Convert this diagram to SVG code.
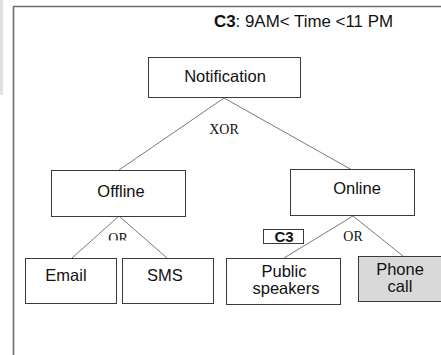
<svg xmlns="http://www.w3.org/2000/svg" width="441" height="355" viewBox="0 0 441 355">
  <style>
    .box { fill: #ffffff; stroke: #3a3a3a; stroke-width: 1; }
    .box.grey { fill: #d9d9d9; }
    .lbl { font-family: "Liberation Sans", Arial, sans-serif; font-size: 16.5px; fill: #111111; text-anchor: middle; }
    .op { font-family: "Liberation Serif", "Times New Roman", serif; font-size: 14px; fill: #111111; text-anchor: middle; }
    .edge { stroke: #7a7a7a; stroke-width: 1; fill: none; }
  </style>
  <defs>
    <clipPath id="orClip">
      <rect x="100" y="225" width="40" height="15.5"/>
    </clipPath>
  </defs>

  <rect x="0" y="0" width="441" height="355" fill="#ffffff"/>
  <!-- side strip -->
  <rect x="0" y="0" width="3" height="95" fill="#e2e2e2"/>
  <!-- outer frame -->
  <path d="M13.5 355 V6.5 H441" fill="none" stroke="#6e6e6e" stroke-width="1.6"/>

  <!-- context condition -->
  <text x="214" y="27" font-family="Liberation Sans, Arial, sans-serif" font-size="16.9" fill="#111111"><tspan font-weight="bold">C3</tspan>: 9AM&lt; Time &lt;11 PM</text>

  <g id="connectors">
    <line class="edge" x1="224" y1="98" x2="119" y2="170"/>
    <line class="edge" x1="224" y1="98" x2="352" y2="170"/>
    <line class="edge" x1="119" y1="216" x2="72" y2="258"/>
    <line class="edge" x1="119" y1="216" x2="167" y2="258"/>
    <line class="edge" x1="353" y1="216" x2="284" y2="258"/>
    <line class="edge" x1="353" y1="216" x2="403" y2="256"/>
    <text class="op" x="224" y="134">XOR</text>
    <text class="op" x="118" y="242.5" clip-path="url(#orClip)">OR</text>
    <text class="op" x="353" y="241">OR</text>
  </g>

  <g id="notification">
    <rect class="box" x="148.5" y="57.5" width="152" height="40"/>
    <text class="lbl" x="225" y="82">Notification</text>
  </g>

  <g id="offline">
    <rect class="box" x="51.5" y="170.5" width="134" height="46"/>
    <text class="lbl" x="121" y="197">Offline</text>
  </g>

  <g id="online">
    <rect class="box" x="290.5" y="169.5" width="124" height="46"/>
    <text class="lbl" x="357" y="194">Online</text>
  </g>

  <g id="email">
    <rect class="box" x="25.5" y="258.5" width="91" height="45"/>
    <text class="lbl" x="66" y="281">Email</text>
  </g>

  <g id="sms">
    <rect class="box" x="122.5" y="258.5" width="91" height="45"/>
    <text class="lbl" x="165" y="281">SMS</text>
  </g>

  <g id="public-speakers">
    <rect class="box" x="226.5" y="258.5" width="114" height="46"/>
    <text class="lbl" x="284" y="277">Public</text>
    <text class="lbl" x="286" y="294">speakers</text>
  </g>

  <g id="phone-call">
    <rect class="box grey" x="358.5" y="256.5" width="90" height="45"/>
    <text class="lbl" x="400" y="275">Phone</text>
    <text class="lbl" x="400" y="292">call</text>
  </g>

  <g id="c3-tag">
    <rect class="box" x="263.5" y="229.5" width="40" height="14"/>
    <text x="284" y="241.5" font-family="Liberation Sans, Arial, sans-serif" font-size="15" font-weight="bold" fill="#111111" text-anchor="middle">C3</text>
  </g>
</svg>
